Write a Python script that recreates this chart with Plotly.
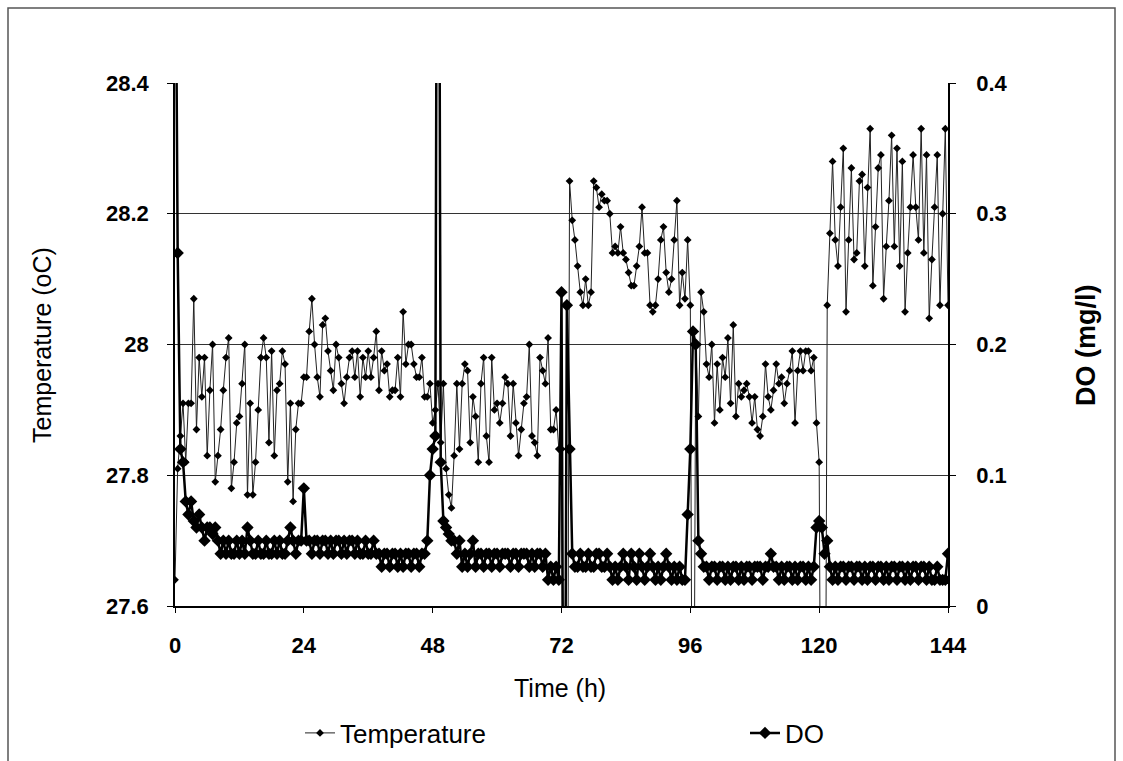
import plotly.graph_objects as go

# ---------------- data (sampled every 0.5 h) ----------------
temp_day1 = [27.64, 27.81, 27.86, 27.91, 27.82, 27.91, 27.91, 28.07,
             27.87, 27.98, 27.92, 27.98, 27.83, 27.93, 28.00, 27.79,
             27.83, 27.87, 27.93, 27.98, 28.01, 27.78, 27.82, 27.88,
             27.89, 27.94, 28.00, 27.77, 27.91, 27.77, 27.82, 27.90,
             27.98, 28.01, 27.98, 27.85, 27.99, 27.83, 27.93, 27.94,
             27.99, 27.97, 27.79, 27.91, 27.76, 27.87, 27.91, 27.91]
temp_day2 = [27.95, 27.95, 28.02, 28.07, 28.00, 27.95, 27.92, 28.03,
             28.04, 27.99, 27.96, 27.93, 28.00, 27.98, 27.94, 27.91,
             27.95, 27.98, 27.99, 27.95, 27.99, 27.92, 27.98, 27.95,
             27.99, 27.95, 27.98, 28.02, 27.93, 27.99, 27.96, 27.97,
             27.92, 27.93, 27.93, 27.98, 27.92, 28.05, 27.97, 28.00,
             28.00, 27.97, 27.95, 27.95, 27.98, 27.92, 27.92, 27.94]
temp_day3 = [27.88, 27.90, 27.94, 27.85, 27.94, 27.81, 27.77, 27.75,
             27.83, 27.94, 27.84, 27.94, 27.97, 27.96, 27.85, 27.92,
             27.89, 27.82, 27.94, 27.98, 27.86, 27.82, 27.98, 27.90,
             27.91, 27.88, 27.91, 27.95, 27.94, 27.86, 27.94, 27.88,
             27.83, 27.87, 27.91, 27.92, 28.00, 27.86, 27.85, 27.83,
             27.98, 27.96, 27.94, 28.01, 27.87, 27.87, 27.90, 27.84]
temp_day4 = [27.84, 27.00, 27.00, 28.25, 28.19, 28.16, 28.12, 28.08,
             28.06, 28.10, 28.06, 28.08, 28.25, 28.24, 28.21, 28.23,
             28.22, 28.22, 28.20, 28.14, 28.15, 28.14, 28.18, 28.14,
             28.13, 28.11, 28.09, 28.09, 28.12, 28.15, 28.21, 28.14,
             28.14, 28.06, 28.05, 28.06, 28.10, 28.16, 28.18, 28.11,
             28.08, 28.10, 28.16, 28.22, 28.06, 28.11, 28.07, 28.16]
temp_day5 = [28.06, 27.00, 28.00, 27.89, 28.08, 28.05, 27.97, 27.95,
             28.00, 27.88, 27.97, 27.90, 27.98, 27.95, 28.01, 27.91,
             28.03, 27.89, 27.94, 27.92, 27.93, 27.94, 27.92, 27.88,
             27.92, 27.87, 27.86, 27.89, 27.97, 27.92, 27.90, 27.93,
             27.97, 27.94, 27.95, 27.91, 27.94, 27.96, 27.99, 27.88,
             27.96, 27.99, 27.96, 27.99, 27.99, 27.96, 27.98, 27.88]
temp_day6 = [27.82, 27.00, 27.00, 28.06, 28.17, 28.28, 28.16, 28.12,
             28.21, 28.30, 28.05, 28.16, 28.27, 28.13, 28.14, 28.25,
             28.26, 28.12, 28.24, 28.33, 28.09, 28.18, 28.27, 28.29,
             28.07, 28.15, 28.22, 28.32, 28.15, 28.30, 28.12, 28.28,
             28.05, 28.14, 28.21, 28.29, 28.21, 28.16, 28.33, 28.14,
             28.29, 28.04, 28.13, 28.21, 28.29, 28.06, 28.20, 28.33,
             28.06]

do_day1 = [0.60, 0.27, 0.12, 0.11, 0.08, 0.07, 0.08, 0.065,
           0.06, 0.07, 0.06, 0.05, 0.06, 0.06, 0.055, 0.06,
           0.05, 0.04, 0.05, 0.04, 0.05, 0.04, 0.04, 0.05,
           0.04, 0.05, 0.04, 0.06, 0.05, 0.04, 0.04, 0.05,
           0.04, 0.04, 0.05, 0.04, 0.04, 0.05, 0.04, 0.05,
           0.04, 0.04, 0.05, 0.06, 0.05, 0.04, 0.05, 0.05]
do_day2 = [0.09, 0.05, 0.05, 0.04, 0.05, 0.05, 0.04, 0.05,
           0.05, 0.04, 0.05, 0.04, 0.05, 0.05, 0.04, 0.05,
           0.04, 0.05, 0.05, 0.04, 0.05, 0.04, 0.04, 0.05,
           0.04, 0.04, 0.05, 0.04, 0.04, 0.03, 0.04, 0.04,
           0.03, 0.04, 0.04, 0.03, 0.04, 0.03, 0.04, 0.04,
           0.03, 0.04, 0.04, 0.03, 0.04, 0.04, 0.05, 0.10]
do_day3 = [0.12, 0.13, 0.90, 0.11, 0.065, 0.06, 0.055, 0.05,
           0.05, 0.04, 0.05, 0.03, 0.04, 0.03, 0.04, 0.05,
           0.03, 0.04, 0.04, 0.03, 0.04, 0.04, 0.03, 0.04,
           0.04, 0.03, 0.04, 0.04, 0.04, 0.03, 0.04, 0.04,
           0.03, 0.04, 0.04, 0.04, 0.03, 0.04, 0.03, 0.04,
           0.04, 0.03, 0.04, 0.02, 0.03, 0.02, 0.03, 0.02]
do_day4 = [0.24, -0.30, 0.23, 0.12, 0.04, 0.03, 0.03, 0.04,
           0.03, 0.03, 0.04, 0.03, 0.03, 0.04, 0.04, 0.03,
           0.03, 0.04, 0.03, 0.02, 0.03, 0.02, 0.03, 0.04,
           0.03, 0.02, 0.04, 0.03, 0.02, 0.04, 0.03, 0.02,
           0.03, 0.04, 0.03, 0.02, 0.03, 0.02, 0.03, 0.04,
           0.03, 0.02, 0.03, 0.02, 0.03, 0.02, 0.02, 0.07]
do_day5 = [0.12, 0.21, 0.20, 0.05, 0.04, 0.03, 0.03, 0.02,
           0.03, 0.03, 0.02, 0.03, 0.03, 0.02, 0.03, 0.02,
           0.03, 0.03, 0.02, 0.03, 0.02, 0.03, 0.03, 0.02,
           0.03, 0.03, 0.03, 0.02, 0.03, 0.03, 0.04, 0.03,
           0.03, 0.02, 0.03, 0.02, 0.03, 0.03, 0.02, 0.03,
           0.02, 0.03, 0.03, 0.02, 0.03, 0.02, 0.03, 0.06]
do_day6 = [0.065, 0.06, 0.04, 0.05, 0.03, 0.02, 0.03, 0.02,
           0.03, 0.03, 0.02, 0.03, 0.03, 0.02, 0.03, 0.03,
           0.02, 0.03, 0.02, 0.03, 0.03, 0.02, 0.03, 0.03,
           0.02, 0.03, 0.02, 0.03, 0.03, 0.02, 0.03, 0.03,
           0.02, 0.03, 0.02, 0.03, 0.03, 0.02, 0.03, 0.03,
           0.02, 0.03, 0.02, 0.02, 0.03, 0.02, 0.02, 0.02,
           0.04]

x_ticks = [0, 24, 48, 72, 96, 120, 144]
temp_ticks = [27.6, 27.8, 28.0, 28.2, 28.4]
temp_tick_text = ["27.6", "27.8", "28", "28.2", "28.4"]
do_ticks = [0, 0.1, 0.2, 0.3, 0.4]
do_tick_text = ["0", "0.1", "0.2", "0.3", "0.4"]

temperature = temp_day1 + temp_day2 + temp_day3 + temp_day4 + temp_day5 + temp_day6
dissolved_o2 = do_day1 + do_day2 + do_day3 + do_day4 + do_day5 + do_day6
assert len(temperature) == len(dissolved_o2) == 289, (len(temperature), len(dissolved_o2))
time_h = [i * 0.5 for i in range(len(temperature))]

# ---------------- figure ----------------
W, H = 1123, 761
L, R, T, B = 175, 175, 83, 155
PW, PH = W - L - R, H - T - B

def px(x):
    return (x - L) / PW

def py(y):
    return (H - B - y) / PH

FONT = "Liberation Sans, Arial, sans-serif"
BLACK = "black"

fig = go.Figure()
fig.add_trace(go.Scatter(
    x=time_h, y=temperature, name="Temperature", mode="lines+markers",
    line=dict(color="#222222", width=1),
    marker=dict(symbol="diamond", size=6, color=BLACK),
    yaxis="y", legend="legend"))
fig.add_trace(go.Scatter(
    x=time_h, y=dissolved_o2, name="DO", mode="lines+markers",
    line=dict(color=BLACK, width=2.5),
    marker=dict(symbol="diamond", size=9.5, color=BLACK),
    yaxis="y2", legend="legend2"))

legend_common = dict(orientation="h", xanchor="left", yanchor="middle",
                     font=dict(family=FONT, size=26, color=BLACK),
                     bgcolor="rgba(0,0,0,0)", borderwidth=0)

fig.update_layout(
    width=W, height=H,
    margin=dict(l=L, r=R, t=T, b=B, autoexpand=False),
    paper_bgcolor="white", plot_bgcolor="white",
    font=dict(family=FONT, color=BLACK, size=22),
    showlegend=True,
    legend=dict(x=px(300), y=py(733), **legend_common),
    legend2=dict(x=px(745), y=py(733), **legend_common),
    xaxis=dict(range=[0, 144], tickvals=x_ticks, ticktext=[f"<b>{v}</b>" for v in x_ticks],
               showline=True, linecolor=BLACK, linewidth=1.5, ticks="outside", ticklen=5,
               tickcolor=BLACK, showgrid=False, zeroline=False,
               tickfont=dict(family=FONT, size=22, color=BLACK), ticklabelstandoff=14),
    yaxis=dict(range=[27.6, 28.4], tickvals=temp_ticks,
               ticktext=[f"<b>{v}</b>" for v in temp_tick_text],
               showline=True, linecolor=BLACK, linewidth=1.5, ticks="outside", ticklen=6,
               tickcolor=BLACK, showgrid=True, gridcolor="#333333", gridwidth=1,
               zeroline=False, tickfont=dict(family=FONT, size=22, color=BLACK),
               ticklabelstandoff=14),
    yaxis2=dict(range=[0, 0.4], tickvals=do_ticks,
                ticktext=[f"<b>{v}</b>" for v in do_tick_text],
                overlaying="y", side="right", anchor="x",
                showline=True, linecolor=BLACK, linewidth=1.5, ticks="outside", ticklen=6,
                tickcolor=BLACK, showgrid=False, zeroline=False,
                tickfont=dict(family=FONT, size=22, color=BLACK), ticklabelstandoff=16),
)

fig.add_annotation(text="Temperature (oC)", xref="paper", yref="paper",
                   x=px(42), y=py(345), xanchor="center", yanchor="middle",
                   textangle=-90, showarrow=False,
                   font=dict(family=FONT, size=25, color=BLACK))
fig.add_annotation(text="<b>DO (mg/l)</b>", xref="paper", yref="paper",
                   x=px(1086), y=py(345), xanchor="center", yanchor="middle",
                   textangle=-90, showarrow=False,
                   font=dict(family=FONT, size=27, color=BLACK))
fig.add_annotation(text="Time (h)", xref="paper", yref="paper",
                   x=px(560), y=py(688), xanchor="center", yanchor="middle",
                   showarrow=False,
                   font=dict(family=FONT, size=25, color=BLACK))

fig.add_shape(type="rect", xref="paper", yref="paper",
              x0=px(8), x1=px(1115), y0=py(775), y1=py(8),
              line=dict(color="#555555", width=1.5), fillcolor="rgba(0,0,0,0)", layer="below")

fig.write_html("out.html")
